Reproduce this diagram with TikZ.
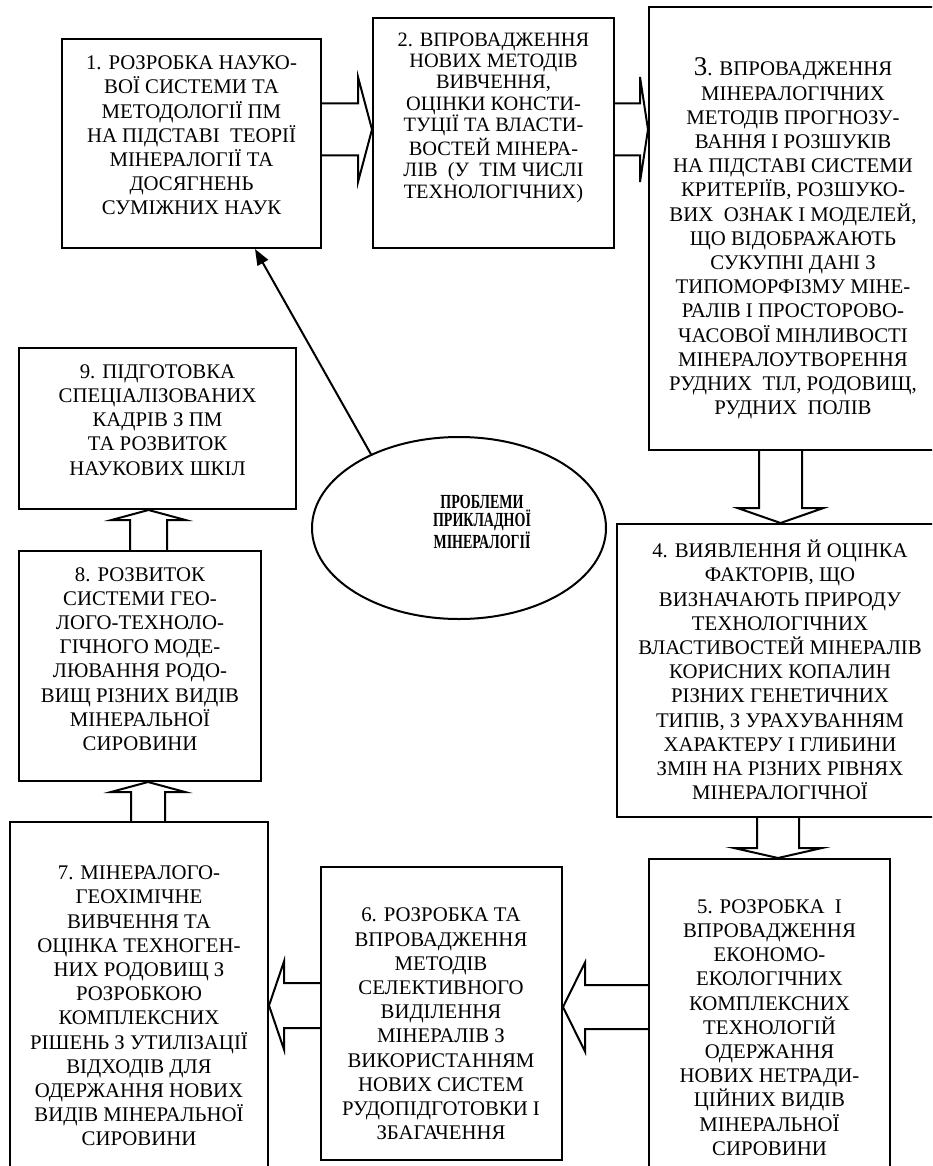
\documentclass[tikz,border=0pt]{standalone}
\usepackage{fontspec}
\setmainfont{Liberation Serif}
\newfontfamily\ellfont[FakeStretch=0.7]{Liberation Serif}
\usetikzlibrary{arrows.meta,calc,shapes.geometric}

\begin{document}
\begin{tikzpicture}[x=0.5pt, y=-0.5pt, line width=1pt,
 box/.style={draw, rectangle, inner sep=0pt},
 txt/.style={align=center, inner sep=0pt, font=\fontsize{10.4pt}{12.1pt}\selectfont},
 ell/.style={draw, ellipse, inner sep=0pt, minimum width=147pt, minimum height=91pt},
 blk/.style n args={3}{line join=miter, to path={
   coordinate (hb) at ($(\tikztotarget)!#3!(\tikztostart)$)
   ($(\tikztostart)!#1!90:(\tikztotarget)$) -- ($(hb)!#1!-90:(\tikztostart)$)
   -- ($(hb)!#2!-90:(\tikztostart)$) -- (\tikztotarget)
   -- ($(hb)!#2!90:(\tikztostart)$) -- ($(hb)!#1!90:(\tikztostart)$)
   -- ($(\tikztostart)!#1!-90:(\tikztotarget)$)}},
 ptr/.style={-{Triangle[length=8pt,width=6pt]}}]
\useasboundingbox (0,0) rectangle (932,1166);
\clip (0,0) rectangle (932,1166);

% frames
\node[box, minimum width=129.5pt, minimum height=104.5pt] (b1) at (191.5,143.5) {};
\node[box, minimum width=120.5pt, minimum height=115pt] (b2) at (493.5,133) {};
\node[box, minimum width=144pt, minimum height=221.5pt] (b3) at (793,228.5) {};
\node[box, minimum width=163pt, minimum height=146.5pt] (b4) at (780,670.5) {};
\node[box, minimum width=120.5pt, minimum height=156.5pt] (b5) at (769.5,1015.5) {};
\node[box, minimum width=120.5pt, minimum height=146.5pt] (b6) at (441.5,1013.5) {};
\node[box, minimum width=129pt, minimum height=175pt] (b7) at (139,997) {};
\node[box, minimum width=121pt, minimum height=115pt] (b8) at (140,666) {};
\node[box, minimum width=138.5pt, minimum height=80.5pt] (b9) at (157.5,428.5) {};
\node[ell] (pm) at (459,528) {};

% texts
\node[txt] (t1) at (191.5,135.5) {1. РОЗРОБКА НАУКО-\\ВОЇ СИСТЕМИ ТА\\МЕТОДОЛОГІЇ ПМ\\НА ПІДСТАВІ~ ТЕОРІЇ\\МІНЕРАЛОГІЇ ТА\\ДОСЯГНЕНЬ\\СУМІЖНИХ НАУК};
\node[txt, font=\fontsize{10.2pt}{10.7pt}\selectfont] (t2) at (493.5,117.5) {2. ВПРОВАДЖЕННЯ\\НОВИХ МЕТОДІВ\\ВИВЧЕННЯ,\\ОЦІНКИ КОНСТИ-\\ТУЦІЇ ТА ВЛАСТИ-\\ВОСТЕЙ МІНЕРА-\\ЛІВ~ (У~ ТІМ ЧИСЛІ\\ТЕХНОЛОГІЧНИХ)};
\node[txt] (t3) at (793,238.5) {{\fontsize{13.5pt}{12pt}\selectfont 3}. ВПРОВАДЖЕННЯ\\МІНЕРАЛОГІЧНИХ\\МЕТОДІВ ПРОГНОЗУ-\\ВАННЯ І РОЗШУКІВ\\НА ПІДСТАВІ СИСТЕМИ\\КРИТЕРІЇВ, РОЗШУКО-\\ВИХ~ ОЗНАК І МОДЕЛЕЙ,\\ЩО ВІДОБРАЖАЮТЬ\\СУКУПНІ ДАНІ З\\ТИПОМОРФІЗМУ МІНЕ-\\РАЛІВ І ПРОСТОРОВО-\\ЧАСОВОЇ МІНЛИВОСТІ\\МІНЕРАЛОУТВОРЕННЯ\\РУДНИХ~ ТІЛ, РОДОВИЩ,\\РУДНИХ~ ПОЛІВ};
\node[txt] (t4) at (780,670) {4. ВИЯВЛЕННЯ Й ОЦІНКА\\ФАКТОРІВ, ЩО\\ВИЗНАЧАЮТЬ ПРИРОДУ\\ТЕХНОЛОГІЧНИХ\\ВЛАСТИВОСТЕЙ МІНЕРАЛІВ\\КОРИСНИХ КОПАЛИН\\РІЗНИХ ГЕНЕТИЧНИХ\\ТИПІВ, З УРАХУВАННЯМ\\ХАРАКТЕРУ І ГЛИБИНИ\\ЗМІН НА РІЗНИХ РІВНЯХ\\МІНЕРАЛОГІЧНОЇ};
\node[txt] (t5) at (769.5,1027.5) {5. РОЗРОБКА~ І\\ВПРОВАДЖЕННЯ\\ЕКОНОМО-\\ЕКОЛОГІЧНИХ\\КОМПЛЕКСНИХ\\ТЕХНОЛОГІЙ\\ОДЕРЖАННЯ\\НОВИХ НЕТРАДИ-\\ЦІЙНИХ ВИДІВ\\МІНЕРАЛЬНОЇ\\СИРОВИНИ};
\node[txt] (t6) at (441,1024) {6. РОЗРОБКА ТА\\ВПРОВАДЖЕННЯ\\МЕТОДІВ\\СЕЛЕКТИВНОГО\\ВИДІЛЕННЯ\\МІНЕРАЛІВ З\\ВИКОРИСТАННЯМ\\НОВИХ СИСТЕМ\\РУДОПІДГОТОВКИ І\\ЗБАГАЧЕННЯ};
\node[txt] (t7) at (139,1006) {7. МІНЕРАЛОГО-\\ГЕОХІМІЧНЕ\\ВИВЧЕННЯ ТА\\ОЦІНКА ТЕХНОГЕН-\\НИХ РОДОВИЩ З\\РОЗРОБКОЮ\\КОМПЛЕКСНИХ\\РІШЕНЬ З УТИЛІЗАЦІЇ\\ВІДХОДІВ ДЛЯ\\ОДЕРЖАННЯ НОВИХ\\ВИДІВ МІНЕРАЛЬНОЇ\\СИРОВИНИ};
\node[txt] (t8) at (140,659) {8. РОЗВИТОК\\СИСТЕМИ ГЕО-\\ЛОГО-ТЕХНОЛО-\\ГІЧНОГО МОДЕ-\\ЛЮВАННЯ РОДО-\\ВИЩ РІЗНИХ ВИДІВ\\МІНЕРАЛЬНОЇ\\СИРОВИНИ};
\node[txt] (t9) at (157.5,420) {9. ПІДГОТОВКА\\СПЕЦІАЛІЗОВАНИХ\\КАДРІВ З ПМ\\ТА РОЗВИТОК\\НАУКОВИХ ШКІЛ};
\node[txt, font=\ellfont\bfseries\fontsize{10pt}{9pt}\selectfont] (pmtxt) at (482,522) {ПРОБЛЕМИ\\ПРИКЛАДНОЇ\\МІНЕРАЛОГІЇ};

% block arrows
\draw[blk={13pt}{26.25pt}{7pt}] (b1.east |- 0,129.5) to (b2.west |- 0,129.5);
\draw[blk={13pt}{26.25pt}{4pt}] (b2.east |- 0,129.5) to (b3.west |- 0,129.5);
\draw[blk={10.75pt}{21.5pt}{7.5pt}] (b3.south -| 780.5,0) to (b4.north -| 780.5,0);
\draw[blk={10.5pt}{22pt}{5pt}] (b4.south -| 778,0) to (b5.north -| 778,0);
\draw[blk={11pt}{22.25pt}{11pt}] (b5.west |- 0,1007) to (b6.east |- 0,1007);
\draw[blk={11.25pt}{22pt}{7.5pt}] (b6.west |- 0,1005.5) to (b7.east |- 0,1005.5);
\draw[blk={8.5pt}{18.5pt}{5pt}] (b7.north -| 148,0) to (b8.south -| 148,0);
\draw[blk={9.25pt}{18.5pt}{5pt}] (b8.north -| 148.5,0) to (b9.south -| 148.5,0);
\draw[ptr] (pm.140) -- (b1.south -| 255,0);
\end{tikzpicture}
\end{document}
